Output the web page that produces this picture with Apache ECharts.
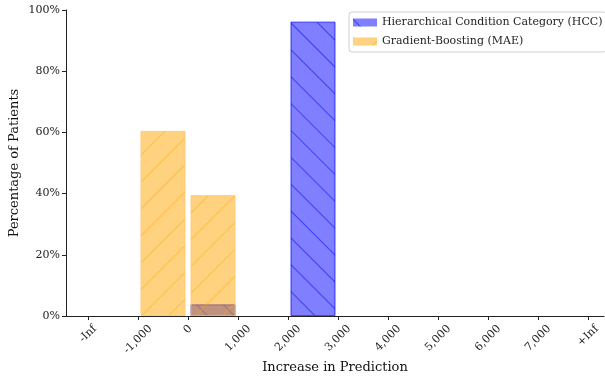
<!DOCTYPE html>
<html>
<head>
<meta charset="utf-8">
<script src="https://cdn.jsdelivr.net/npm/echarts@6/dist/echarts.min.js"></script>
<style>html,body{margin:0;padding:0;background:#fff}#c{width:605px;height:377px}</style>
</head>
<body>
<div id="c"></div>
<script>
// Tick labels at bin edges (index 0..10)
var tickLabels = ['-Inf', '-1,000', '0', '1,000', '2,000', '3,000', '4,000', '5,000', '6,000', '7,000', '+Inf'];
// Percentage of patients in each bin (bin i lies between tick i and tick i+1)
var hccValues = [0, 0, 3.8, 0, 96.2, 0, 0, 0, 0, 0];
var gbValues  = [0, 60.5, 39.5, 0, 0, 0, 0, 0, 0, 0];
var seriesNames = ['Hierarchical Condition Category (HCC)', 'Gradient-Boosting (MAE)'];

function toBars(vals) {
  var out = [];
  vals.forEach(function (v, i) { if (v > 0) out.push([i + 0.5, v]); });
  return out;
}
var FONT = 'DejaVu Serif';
var LABEL_SIZE = 11;
var tickPos = tickLabels.map(function (t, i) { return i; });

// Rotated labels are centred horizontally on the tick with their box top at a fixed offset
// (like matplotlib's ha='center'); shift each label's centre down by half its rotated height.
var mctx = document.createElement('canvas').getContext('2d');
mctx.font = LABEL_SIZE + 'px "' + FONT + '"';
var rich = {};
tickLabels.forEach(function (t, i) {
  var L = mctx.measureText(t).width;
  var d = (L + 6) / (2 * Math.SQRT2);
  var p = Math.SQRT2 * d;
  rich['t' + i] = { fontFamily: FONT, fontSize: LABEL_SIZE, color: '#222', padding: [p, p, 0, 0] };
});

var chart = echarts.init(document.getElementById('c'));
chart.setOption({
  animation: false,
  grid: { left: 66, right: 1, top: 10, bottom: 61, containLabel: false, outerBoundsMode: 'none' },
  legend: {
    orient: 'vertical', left: 349, top: 12,
    padding: [5, 4, 5, 4], itemGap: 8, itemWidth: 24, itemHeight: 8,
    icon: 'rect',
    itemStyle: { borderWidth: 0 },
    borderColor: '#d0d0d0', borderWidth: 1, borderRadius: 3,
    textStyle: { fontFamily: FONT, fontSize: 11, color: '#222' },
    data: seriesNames
  },
  xAxis: {
    type: 'value', min: -0.44, max: 10.32,
    axisLine: { show: true, onZero: false, lineStyle: { color: '#222', width: 1 } },
    axisTick: { show: true, length: 4, lineStyle: { color: '#222' }, customValues: tickPos },
    axisLabel: {
      customValues: tickPos,
      rotate: 45, align: 'center', verticalAlign: 'middle', margin: 9,
      fontFamily: FONT, fontSize: LABEL_SIZE, color: '#222',
      formatter: function (v) { var i = Math.round(v); return '{t' + i + '|' + tickLabels[i] + '}'; },
      rich: rich
    },
    splitLine: { show: false },
    name: 'Increase in Prediction', nameLocation: 'middle', nameGap: 45, nameMoveOverlap: false,
    nameTextStyle: { fontFamily: FONT, fontSize: 13, color: '#111' }
  },
  yAxis: {
    type: 'value', min: 0, max: 100, interval: 20,
    axisLine: { show: true, onZero: false, lineStyle: { color: '#222', width: 1 } },
    axisTick: { show: true, length: 4, lineStyle: { color: '#222' } },
    axisLabel: { formatter: '{value}%', fontFamily: FONT, fontSize: 11, color: '#222', margin: 6 },
    splitLine: { show: false },
    name: 'Percentage of Patients', nameLocation: 'middle', nameGap: 45, nameMoveOverlap: false,
    nameTextStyle: { fontFamily: FONT, fontSize: 13, color: '#111' }
  },
  series: [
    {
      name: seriesNames[0], type: 'bar', barWidth: 45, barGap: '-100%',
      data: toBars(hccValues),
      itemStyle: {
        color: 'rgba(0,0,255,0.5)', borderColor: 'rgba(0,0,255,0.4)', borderWidth: 1,
        decal: { symbol: 'rect', symbolSize: 1, dashArrayX: [1, 0], dashArrayY: [1, 18], rotation: Math.PI / 4, color: 'rgba(0,0,230,0.5)' }
      }
    },
    {
      name: seriesNames[1], type: 'bar', barWidth: 45, barGap: '-100%',
      data: toBars(gbValues),
      itemStyle: {
        color: 'rgba(255,165,0,0.5)', borderColor: 'rgba(255,200,120,0.5)', borderWidth: 1,
        decal: { symbol: 'rect', symbolSize: 1, dashArrayX: [1, 0], dashArrayY: [1, 18], rotation: -Math.PI / 4, color: 'rgba(255,165,0,0.45)' }
      }
    }
  ]
});
</script>
</body>
</html>
